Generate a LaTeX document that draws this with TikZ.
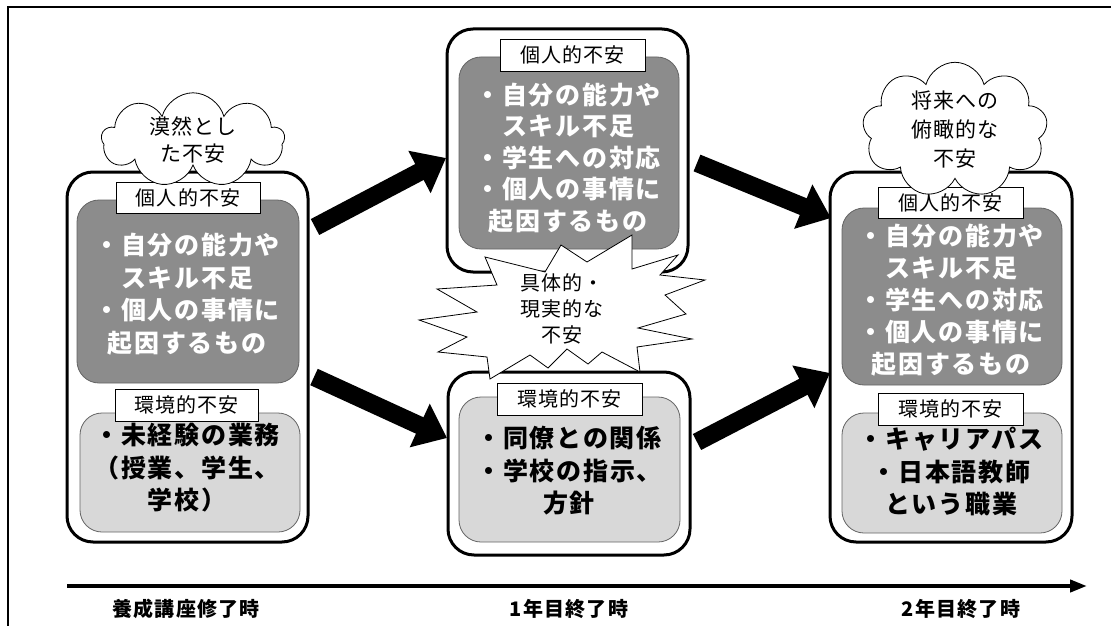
\documentclass[tikz,border=0pt]{standalone}
\usepackage{fontspec}
\setmainfont{Noto Sans CJK JP}
\newfontfamily\jpwide[LetterSpace=7]{Noto Sans CJK JP}
\newfontfamily\jpmid[LetterSpace=6]{Noto Sans CJK JP}
\usetikzlibrary{arrows.meta,shapes.symbols}
\definecolor{darkfill}{RGB}{140,140,140}
\definecolor{lightfill}{RGB}{216,216,216}
\definecolor{innerline}{RGB}{100,100,100}
\tikzset{
  outerbox/.style={draw, line width=3pt, rounded corners=26pt, fill=white, inner sep=0pt},
  darkbox/.style={draw=innerline, line width=0.8pt, fill=darkfill, rounded corners=22pt, inner sep=0pt},
  lightbox/.style={draw=innerline, line width=0.8pt, fill=lightfill, rounded corners=22pt, inner sep=0pt},
  tagbox/.style={draw, line width=0.8pt, fill=white, inner sep=0pt, font=\jpmid\fontsize{20}{22}\selectfont},
  whitetxt/.style={text=white, align=center, font=\jpwide\bfseries\fontsize{25}{32.5}\selectfont},
  blacktxt/.style={text=black, align=center, font=\jpwide\bfseries\fontsize{25}{32.5}\selectfont},
  cloudbox/.style={cloud, cloud puffs=9, cloud ignores aspect, draw, line width=0.8pt, fill=white, inner sep=0pt, align=center},
  blockarrow/.style={line width=18pt, -{Triangle[length=30pt,width=46pt]}},
  timeaxis/.style={line width=4pt, -{Triangle[length=17pt,width=12pt]}},
  timelabel/.style={font=\jpmid\bfseries\fontsize{20}{22}\selectfont},
}
\begin{document}
\begin{tikzpicture}[x=1pt,y=-1pt]
\useasboundingbox (0,0) rectangle (1111,626);
% frame
\draw[line width=2.5pt] (8,626) -- (8,7) -- (1111,7);

% ---- left group
\node[outerbox, minimum width=241pt, minimum height=370pt] (Lout) at (187.5,357) {};
\node[darkbox, minimum width=222pt, minimum height=183pt] (Ldark) at (188,291.5) {};
\node[whitetxt] (Ldtxt) at (187,294) {・自分の能力や\\スキル不足\\・個人の事情に\\起因するもの};
\node[tagbox, minimum width=144pt, minimum height=31pt] (Ltag1) at (188,197.5) {個人的不安};
\node[lightbox, minimum width=220pt, minimum height=119pt] (Llight) at (190,472.5) {};
\node[blacktxt] (Lltxt) at (187,468) {・未経験の業務\\（授業、学生、\\学校）};
\node[tagbox, minimum width=143pt, minimum height=32pt] (Ltag2) at (186.5,405) {環境的不安};
\node[cloudbox, minimum width=183pt, minimum height=84pt, font=\jpmid\fontsize{21}{27}\selectfont] (Lcloud) at (193,140) {漠然とし\\た不安};

% ---- middle top group
\node[outerbox, minimum width=241pt, minimum height=243pt] (Mout) at (567.5,150.5) {};
\node[darkbox, minimum width=220pt, minimum height=192pt] (Mdark) at (569,153) {};
\node[whitetxt, font=\jpwide\bfseries\fontsize{25}{31.5}\selectfont] (Mdtxt) at (568,158) {・自分の能力や\\スキル不足\\・学生への対応\\・個人の事情に\\起因するもの};
\node[tagbox, minimum width=145pt, minimum height=32pt] (Mtag1) at (572.5,55) {個人的不安};

% ---- middle bottom group
\node[outerbox, minimum width=242pt, minimum height=183pt] (Bout) at (569,463.5) {};
\node[lightbox, minimum width=221pt, minimum height=145pt] (Blight) at (569.5,469.5) {};
\node[blacktxt] (Bltxt) at (569,471) {・同僚との関係\\・学校の指示、\\方針};
\node[tagbox, minimum width=145pt, minimum height=32pt] (Btag) at (569.5,399) {環境的不安};

% ---- explosion
\draw[line width=0.8pt, fill=white, line join=miter]
  (485,257) -- (545,272) -- (561,245) -- (587,262) -- (632,235) -- (632,269)
  -- (678,255) -- (660,275) -- (705,280) -- (665,295) -- (686,314) -- (638,328)
  -- (692,339) -- (637,347) -- (640,372) -- (602,352) -- (588,364) -- (567,349)
  -- (548,368) -- (530,355) -- (490,379) -- (487,357) -- (438,352) -- (467,337)
  -- (419,320) -- (477,312) -- (437,289) -- (497,285) -- cycle;
\node[align=center, font=\jpmid\fontsize{20}{26}\selectfont] (boom) at (562,309) {具体的・\\現実的な\\不安};

% ---- right group
\node[outerbox, minimum width=242pt, minimum height=370pt] (Rout) at (951,357) {};
\node[darkbox, minimum width=220pt, minimum height=177pt] (Rdark) at (952,296.5) {};
\node[whitetxt, font=\jpwide\bfseries\fontsize{25}{32}\selectfont] (Rdtxt) at (951,300) {・自分の能力や\\スキル不足\\・学生への対応\\・個人の事情に\\起因するもの};
\node[tagbox, minimum width=145pt, minimum height=31pt] (Rtag1) at (950.5,202.5) {個人的不安};
\node[lightbox, minimum width=220pt, minimum height=120pt] (Rlight) at (952,473) {};
\node[blacktxt] (Rltxt) at (951,472) {・キャリアパス\\・日本語教師\\という職業};
\node[tagbox, minimum width=145pt, minimum height=32pt] (Rtag2) at (950.5,409) {環境的不安};
\node[cloudbox, minimum width=185pt, minimum height=104pt, font=\jpmid\fontsize{21}{29}\selectfont] (Rcloud) at (955,130) {将来への\\俯瞰的な\\不安};

% ---- block arrows
\coordinate (a1s) at (315,227);
\coordinate (a1e) at (446,158);
\coordinate (a2s) at (314,377);
\coordinate (a2e) at (447,438);
\coordinate (a3s) at (697,163);
\coordinate (a3e) at (831,218);
\coordinate (a4s) at (697,442);
\coordinate (a4e) at (830,373);
\draw[blockarrow] (a1s) -- (a1e);
\draw[blockarrow] (a2s) -- (a2e);
\draw[blockarrow] (a3s) -- (a3e);
\draw[blockarrow] (a4s) -- (a4e);

% ---- timeline
\coordinate (t0) at (67,586);
\coordinate (t1) at (1087,586);
\draw[timeaxis] (t0) -- (t1);
\node[timelabel] (lab0) at (186,609) {養成講座修了時};
\node[timelabel] (lab1) at (569,609) {1年目終了時};
\node[timelabel] (lab2) at (961,609) {2年目終了時};
\end{tikzpicture}
\end{document}
